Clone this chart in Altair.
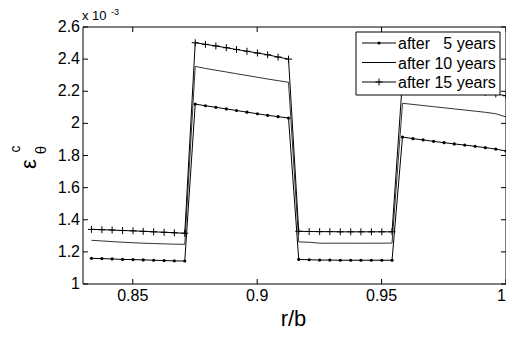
import altair as alt
import pandas as pd

# ---------------- data (strain values in units of 1e-3) ----------------
x_vals = [0.8334, 0.8376, 0.8417, 0.8459, 0.8501, 0.8542, 0.8584, 0.8626, 0.8667, 0.8709,
          0.8751, 0.8792, 0.8834, 0.8876, 0.8917, 0.8959, 0.9001, 0.9042, 0.9084, 0.9126,
          0.9167, 0.9209, 0.9251, 0.9292, 0.9334, 0.9376, 0.9417, 0.9459, 0.9501, 0.9542,
          0.9584, 0.9626, 0.9667, 0.9709, 0.9751, 0.9792, 0.9834, 0.9876, 0.9917, 0.9959, 1.0]

y5 = [1.160, 1.158, 1.156, 1.153, 1.152, 1.150, 1.148, 1.146, 1.144, 1.143,
      2.120, 2.110, 2.100, 2.090, 2.080, 2.070, 2.060, 2.050, 2.042, 2.033,
      1.153, 1.151, 1.149, 1.149, 1.148, 1.148, 1.148, 1.148, 1.148, 1.148,
      1.915, 1.905, 1.897, 1.888, 1.880, 1.872, 1.865, 1.857, 1.849, 1.840, 1.828]

y10 = [1.272, 1.268, 1.264, 1.260, 1.257, 1.254, 1.252, 1.250, 1.248, 1.247,
       2.355, 2.342, 2.331, 2.320, 2.309, 2.298, 2.287, 2.276, 2.266, 2.256,
       1.262, 1.260, 1.254, 1.254, 1.254, 1.254, 1.254, 1.254, 1.254, 1.255,
       2.125, 2.118, 2.111, 2.104, 2.097, 2.090, 2.083, 2.076, 2.069, 2.060, 2.040]

y15 = [1.340, 1.338, 1.336, 1.333, 1.331, 1.328, 1.325, 1.322, 1.319, 1.316,
       2.502, 2.492, 2.482, 2.471, 2.460, 2.449, 2.438, 2.427, 2.413, 2.400,
       1.328, 1.327, 1.326, 1.326, 1.325, 1.325, 1.325, 1.325, 1.325, 1.325,
       2.272, 2.262, 2.252, 2.242, 2.232, 2.222, 2.212, 2.202, 2.192, 2.183, 2.172]

series = ["after\u00a0\u00a0\u00a05 years", "after 10 years", "after 15 years"]
x_ticks = [0.85, 0.9, 0.95, 1.0]
x_tick_labels = ["0.85", "0.9", "0.95", "1"]
y_ticks = [1.0, 1.2, 1.4, 1.6, 1.8, 2.0, 2.2, 2.4, 2.6]
y_tick_labels = ["1", "1.2", "1.4", "1.6", "1.8", "2", "2.2", "2.4", "2.6"]

# ---------------- layout ----------------
W, H = 423, 257
FONT = "Liberation Sans"
PLUS = "M-1,0H1M0,-1V1"

rows = []
for name, ys in zip(series, [y5, y10, y15]):
    for xv, yv in zip(x_vals, ys):
        rows.append({"x": xv, "y": yv, "s": name})
df = pd.DataFrame(rows)

xs = alt.Scale(domain=[0.83, 1.0], nice=False, zero=False)
ys_ = alt.Scale(domain=[1.0, 2.6], nice=False, zero=False)

base = alt.Chart(df)
lines = base.mark_line(strokeWidth=1).encode(
    x=alt.X("x:Q", scale=xs, axis=None),
    y=alt.Y("y:Q", scale=ys_, axis=None),
    color=alt.Color("s:N", scale=alt.Scale(domain=series, range=["black", "#333333", "black"]), legend=None),
    detail="s:N",
)
dots = base.transform_filter(alt.datum.s == series[0]).mark_point(
    shape="circle", filled=True, size=10, color="black", opacity=1
).encode(x=alt.X("x:Q", scale=xs, axis=None), y=alt.Y("y:Q", scale=ys_, axis=None))
plus = base.transform_filter(alt.datum.s == series[2]).mark_point(
    shape=PLUS, filled=False, size=49, strokeWidth=1, color="black", opacity=1
).encode(x=alt.X("x:Q", scale=xs, axis=None), y=alt.Y("y:Q", scale=ys_, axis=None))

# inward ticks on all four sides + tick labels
tick_df = pd.DataFrame({"x": x_ticks, "lab": x_tick_labels})
xt = alt.Chart(tick_df)
yt = alt.Chart(pd.DataFrame({"y": y_ticks, "lab": y_tick_labels}))
tick_b = xt.mark_rule(color="black", strokeWidth=1).encode(
    x=alt.X("x:Q", scale=xs, axis=None), y=alt.value(H), y2=alt.value(H - 5))
tick_t = xt.mark_rule(color="black", strokeWidth=1).encode(
    x=alt.X("x:Q", scale=xs, axis=None), y=alt.value(0), y2=alt.value(5))
tick_l = yt.mark_rule(color="black", strokeWidth=1).encode(
    y=alt.Y("y:Q", scale=ys_, axis=None), x=alt.value(0), x2=alt.value(5))
tick_r = yt.mark_rule(color="black", strokeWidth=1).encode(
    y=alt.Y("y:Q", scale=ys_, axis=None), x=alt.value(W - 5), x2=alt.value(W))
xlab = xt.transform_filter(alt.datum.x < 1).mark_text(
    font=FONT, fontSize=16, color="black", align="center", baseline="alphabetic").encode(
    x=alt.X("x:Q", scale=xs, axis=None), y=alt.value(H + 17), text="lab:N")
xlab_end = xt.transform_filter(alt.datum.x >= 1).mark_text(
    font=FONT, fontSize=16, color="black", align="right", baseline="alphabetic").encode(
    x=alt.X("x:Q", scale=xs, axis=None), y=alt.value(H + 17), text="lab:N")
ylab = yt.mark_text(font=FONT, fontSize=16, color="black", align="right", baseline="middle").encode(
    y=alt.Y("y:Q", scale=ys_, axis=None), x=alt.value(-3), text="lab:N")

# plot frame
one = pd.DataFrame({"k": [0]})
frame = alt.Chart(one).mark_rect(fill=None, stroke="black", strokeWidth=1).encode(
    x=alt.value(0), x2=alt.value(W), y=alt.value(0), y2=alt.value(H))


def label(text, x, y, size, angle=0, align="left", baseline="alphabetic"):
    return alt.Chart(one).mark_text(
        text=text, font=FONT, fontSize=size, color="black", angle=angle,
        align=align, baseline=baseline
    ).encode(x=alt.value(x), y=alt.value(y))


# legend box
LX = W - 145
legend_layers = [
    alt.Chart(one).mark_rect(fill="white", stroke="black", strokeWidth=1).encode(
        x=alt.value(LX - 5), x2=alt.value(W - 6), y=alt.value(5), y2=alt.value(68))
]
row_y = [16, 35.5, 55]
for i, name in enumerate(series):
    yy = row_y[i]
    legend_layers.append(
        alt.Chart(one).mark_rule(color="black", strokeWidth=1).encode(
            x=alt.value(LX + 1), x2=alt.value(LX + 35), y=alt.value(yy)))
    legend_layers.append(label(name, LX + 37, yy + 6, 16))
legend_layers.append(
    alt.Chart(one).mark_point(shape="circle", filled=True, size=10, color="black", opacity=1).encode(
        x=alt.value(LX + 18), y=alt.value(row_y[0])))
legend_layers.append(
    alt.Chart(one).mark_point(shape=PLUS, filled=False, size=49, strokeWidth=1, color="black", opacity=1).encode(
        x=alt.value(LX + 18), y=alt.value(row_y[2])))

texts = [
    label("x 10", -1, -7, 13),
    label("-3", 28, -12, 9),
    label("r/b", W / 2 - 1, H + 42, 22, align="center"),
    label("\u03b5", -54, 137, 22, angle=270, align="center", baseline="middle"),
    label("c", -67, 122, 14, angle=270, align="center", baseline="middle"),
    label("\u03b8", -42, 123, 15, angle=270, align="center", baseline="middle"),
]

chart = alt.layer(
    lines, dots, plus, *legend_layers, tick_b, tick_t, tick_l, tick_r, frame,
    xlab, xlab_end, ylab, *texts
).properties(
    width=W, height=H,
    autosize=alt.AutoSizeParams(type="none"),
    padding={"left": 75, "top": 19, "right": 0, "bottom": 46},
).configure_view(
    stroke=None, fill="white"
)

chart.save("out.html", embed_options={"renderer": "svg", "actions": False})
